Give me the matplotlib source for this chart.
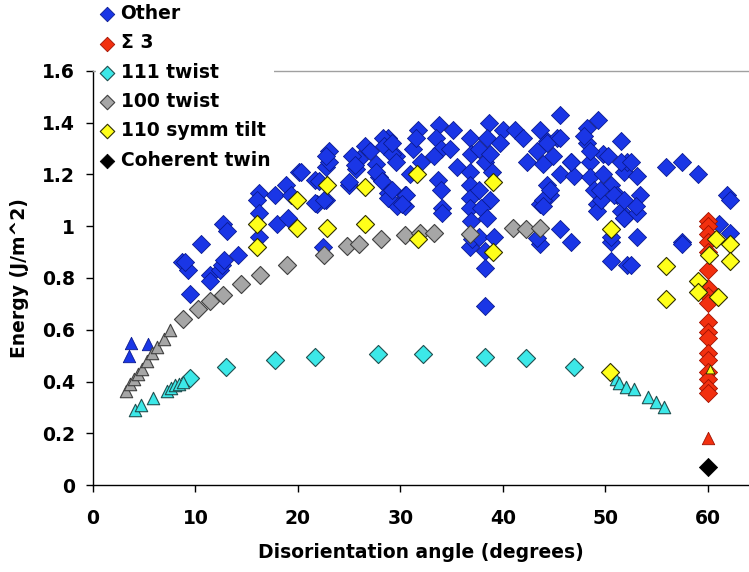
import matplotlib
matplotlib.use("Agg")
import matplotlib.pyplot as plt

# ---------------- data ----------------
other_x = [8.7, 9.3, 9.0, 9.5, 10.5, 11.4, 12.4, 12.6, 12.8, 12.7, 13.1, 14.2, 11.4,
           16.2, 16.0, 16.2, 16.2, 17.8, 18.0, 19.0, 18.8, 19.3, 20.1, 20.3, 21.7, 21.9,
           22.7, 22.7, 23.0, 23.0, 22.4, 22.7, 22.1, 21.7, 22.5, 25.0, 25.7, 26.0, 26.5,
           27.6, 27.9, 28.8, 28.9, 29.6, 29.7, 25.3, 25.6, 25.0, 27.0, 28.3, 28.4, 29.2,
           27.6, 28.2, 28.8, 28.8,
           29.2, 29.6, 29.2, 30.4, 30.4, 31.7, 31.2, 32.0, 30.9, 31.5, 30.5, 30.2,
           33.8, 33.5, 34.0, 33.3, 35.1, 34.8, 35.5, 33.7, 34.0, 34.1, 34.1,
           36.8, 36.9, 36.8, 36.8, 36.8, 36.8, 36.9, 36.8, 37.0,
           38.6, 38.4, 37.7, 38.2, 38.7, 38.9, 37.7, 38.7, 37.9, 38.4, 37.7, 39.1,
           38.2, 38.2, 38.2,
           40.0, 39.7, 41.2, 42.0, 42.3, 43.6, 43.3, 44.3, 44.9, 43.9, 45.6, 45.3,
           46.6, 45.6, 46.9, 44.3, 44.6, 43.6, 43.9, 45.6, 46.6, 43.6, 43.3,
           48.2, 49.3, 51.5, 48.2, 48.5, 49.8, 48.5, 49.8, 48.9, 50.5, 49.2, 51.1,
           51.8, 49.2, 51.5, 51.8, 52.1, 50.5, 50.5, 52.1,
           44.3, 45.6, 46.6, 47.9, 48.5, 50.2, 51.5, 52.5, 53.1, 53.4, 53.1, 53.0,
           51.8, 50.5, 53.1, 52.5, 49.6, 49.5, 50.8, 51.8, 44.6, 43.9,
           55.9, 57.5, 59.0, 61.9, 57.5, 57.5, 61.1, 62.1, 62.1]
other_y = [0.86, 0.83, 0.86, 0.74, 0.93, 0.81, 0.83, 0.85, 0.87, 1.01, 0.98, 0.89, 0.79,
           1.13, 1.10, 1.05, 0.96, 1.12, 1.01, 1.03, 1.16, 1.12, 1.21, 1.21, 1.18, 1.085,
           1.10, 1.23, 1.29, 1.25, 0.92, 1.27, 1.175, 1.09, 1.10, 1.16, 1.22, 1.26, 1.31,
           1.24, 1.19, 1.34, 1.13, 1.27, 1.08, 1.27, 1.235, 1.17, 1.29, 1.34, 1.31, 1.28,
           1.21, 1.175, 1.13, 1.11,
           1.32, 1.25, 1.14, 1.12, 1.08, 1.37, 1.30, 1.25, 1.20, 1.34, 1.12, 1.085,
           1.39, 1.34, 1.30, 1.27, 1.37, 1.30, 1.23, 1.18, 1.14, 1.07, 1.05,
           1.34, 1.28, 1.21, 1.16, 1.11, 1.07, 1.02, 0.92, 0.95,
           1.40, 1.34, 1.30, 1.25, 1.28, 1.21, 1.14, 1.10, 1.07, 1.03, 0.96, 0.96,
           0.905, 0.84, 0.69,
           1.37, 1.32, 1.37, 1.34, 1.25, 1.37, 1.29, 1.33, 1.27, 1.24, 1.43, 1.34,
           1.25, 1.20, 1.195, 1.16, 1.12, 1.085, 1.10, 0.99, 0.94, 0.93, 0.955,
           1.38, 1.41, 1.33, 1.32, 1.25, 1.28, 1.19, 1.20, 1.14, 1.16, 1.085, 1.12,
           1.21, 1.06, 1.06, 1.03, 1.25, 0.94, 0.865, 0.85,
           1.32, 1.34, 1.25, 1.35, 1.29, 1.27, 1.25, 1.25, 1.195, 1.12, 1.05, 1.08,
           1.03, 0.96, 0.96, 0.85, 1.10, 1.14, 1.12, 1.10, 1.14, 1.08,
           1.23, 1.25, 1.20, 1.12, 0.94, 0.93, 1.01, 0.975, 1.10]
other_tri_x = [3.5, 3.7, 5.4]
other_tri_y = [0.50, 0.55, 0.545]

sigma3_x = [60.0] * 18
sigma3_y = [1.02, 1.00, 0.97, 0.94, 0.90, 0.83, 0.76, 0.73, 0.705, 0.63, 0.59, 0.57,
            0.51, 0.485, 0.435, 0.41, 0.375, 0.355]
sigma3_tri_x = [60.0]
sigma3_tri_y = [0.18]

twist111_x = [9.5, 13.0, 17.8, 21.7, 27.8, 32.2, 38.2, 42.2, 46.9]
twist111_y = [0.415, 0.455, 0.485, 0.495, 0.505, 0.505, 0.495, 0.49, 0.455]
twist111_tri_x = [4.1, 4.7, 5.9, 7.2, 7.6, 8.0, 8.4, 8.8, 51.0, 51.3, 52.0, 52.8, 54.1, 54.9, 55.7]
twist111_tri_y = [0.29, 0.31, 0.335, 0.365, 0.375, 0.385, 0.39, 0.40, 0.41, 0.395, 0.38,
                  0.37, 0.34, 0.32, 0.30]

twist100_x = [8.8, 10.3, 11.4, 12.7, 14.4, 16.3, 18.9, 22.5, 24.8, 26.0, 28.1, 30.4,
              31.9, 33.3, 36.8, 41.0, 42.2, 43.6]
twist100_y = [0.64, 0.68, 0.71, 0.735, 0.775, 0.81, 0.85, 0.89, 0.925, 0.93, 0.95, 0.965,
              0.975, 0.975, 0.97, 0.995, 0.99, 0.995]
twist100_tri_x = [3.2, 3.6, 4.0, 4.4, 4.8, 5.3, 5.8, 6.3, 6.9, 7.5]
twist100_tri_y = [0.365, 0.39, 0.41, 0.43, 0.45, 0.48, 0.51, 0.535, 0.565, 0.60]

tilt110_x = [16.0, 16.0, 19.9, 22.8, 19.9, 22.8, 26.5, 26.5, 31.6, 31.7, 39.0, 39.0,
             50.5, 55.9, 55.9, 59.0, 59.0, 60.1, 60.8, 62.1, 62.1, 61.0, 50.4]
tilt110_y = [0.92, 1.01, 0.995, 0.995, 1.10, 1.16, 1.15, 1.01, 1.20, 0.95, 1.17, 0.90,
             0.99, 0.845, 0.72, 0.79, 0.745, 0.89, 0.95, 0.93, 0.865, 0.725, 0.435]
tilt110_tri_x = [60.2]
tilt110_tri_y = [0.45]

twin_x = [60.0]
twin_y = [0.07]

# ---------------- style ----------------
plt.rcParams['font.family'] = ['DejaVu Sans']
plt.rcParams['font.weight'] = 'bold'

fig = plt.figure(figsize=(7.49, 5.72), dpi=100)
ax = fig.add_axes([0.124, 0.152, 0.876, 0.724])

S_D = 85
S_T = 80
c_blue, e_blue = '#1a36e6', '#0a1a90'
c_red, e_red = '#f2300f', '#a01000'
c_cyan, e_cyan = '#3ce8e8', '#205050'
c_gray, e_gray = '#a6a6a6', '#404040'
c_yel, e_yel = '#ffff1a', '#303000'

ax.scatter(other_x, other_y, marker='D', s=S_D, c=c_blue, edgecolors=e_blue,
           linewidths=0.6, label='Other', zorder=2)
ax.scatter(other_tri_x, other_tri_y, marker='^', s=S_T, c=c_blue, edgecolors=e_blue,
           linewidths=0.6, zorder=2)
ax.scatter(sigma3_x, sigma3_y, marker='D', s=S_D, c=c_red, edgecolors=e_red,
           linewidths=0.6, label='Σ 3', zorder=3)
ax.scatter(sigma3_tri_x, sigma3_tri_y, marker='^', s=S_T, c=c_red, edgecolors=e_red,
           linewidths=0.6, zorder=3)
ax.scatter(twist111_x, twist111_y, marker='D', s=S_D, c=c_cyan, edgecolors=e_cyan,
           linewidths=0.8, label='111 twist', zorder=4)
ax.scatter(twist111_tri_x, twist111_tri_y, marker='^', s=S_T, c=c_cyan, edgecolors=e_cyan,
           linewidths=0.8, zorder=4)
ax.scatter(twist100_x, twist100_y, marker='D', s=S_D, c=c_gray, edgecolors=e_gray,
           linewidths=0.8, label='100 twist', zorder=5)
ax.scatter(twist100_tri_x, twist100_tri_y, marker='^', s=S_T, c=c_gray, edgecolors=e_gray,
           linewidths=0.8, zorder=5)
ax.scatter(tilt110_x, tilt110_y, marker='D', s=S_D, c=c_yel, edgecolors=e_yel,
           linewidths=0.8, label='110 symm tilt', zorder=6)
ax.scatter(tilt110_tri_x, tilt110_tri_y, marker='^', s=S_T * 0.5, c=c_yel, edgecolors=e_yel,
           linewidths=0.6, zorder=6)
ax.scatter(twin_x, twin_y, marker='D', s=S_D, c='black', edgecolors='black',
           linewidths=0.6, label='Coherent twin', zorder=7)

ax.set_xlim(0, 64)
ax.set_ylim(0, 1.6)
ax.set_xticks([0, 10, 20, 30, 40, 50, 60])
ax.set_yticks([0, 0.2, 0.4, 0.6, 0.8, 1.0, 1.2, 1.4, 1.6])
ax.set_yticklabels(['0', '0.2', '0.4', '0.6', '0.8', '1', '1.2', '1.4', '1.6'])
ax.tick_params(axis='both', direction='out', length=5, width=1, labelsize=13.5)
ax.tick_params(axis='x', pad=12)
ax.tick_params(axis='y', pad=8)

ax.spines['right'].set_visible(False)
ax.spines['top'].set_color('#a0a0a0')
ax.spines['top'].set_linewidth(1.0)
ax.spines['left'].set_linewidth(1.0)
ax.spines['bottom'].set_linewidth(1.0)

ax.set_xlabel('Disorientation angle (degrees)', fontsize=13.5, fontweight='bold', labelpad=11)
ax.set_ylabel('Energy (J/m^2)', fontsize=13.5, fontweight='bold', labelpad=9)

leg = fig.legend(loc='upper left', bbox_to_anchor=(0.128, 1.0), frameon=True,
                 fontsize=13.5, handlelength=0.8, handletextpad=0.3, labelspacing=0.55,
                 borderpad=0.22, borderaxespad=0.0, markerscale=0.8, scatterpoints=1)
leg.get_frame().set_facecolor('white')
leg.get_frame().set_edgecolor('none')
leg.get_frame().set_alpha(1.0)
leg.set_zorder(10)

fig.savefig('out.png', dpi=100)
